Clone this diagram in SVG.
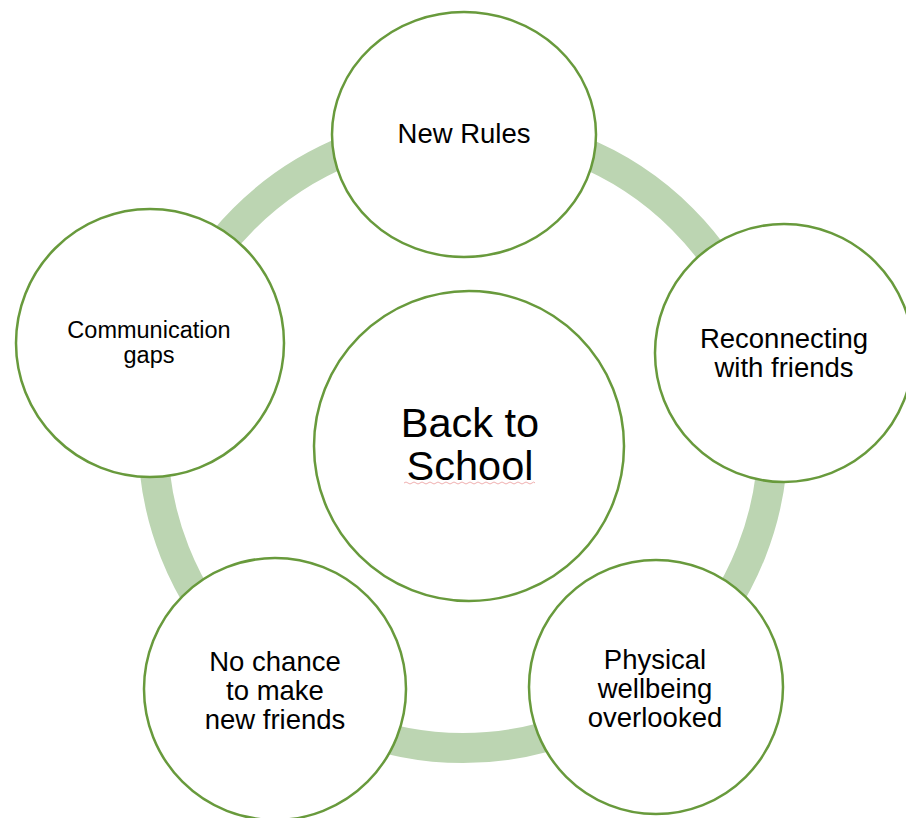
<svg xmlns="http://www.w3.org/2000/svg" width="906" height="818" viewBox="0 0 906 818">
<style>
.node{fill:#ffffff;stroke:#689a3c;stroke-width:2.5}
.ring{fill:none;stroke:#bcd5b2;stroke-width:30}
.t{font-family:"Liberation Sans",Arial,sans-serif;fill:#000;text-anchor:middle}
.s26{font-size:27.5px}
.s23{font-size:23.5px}
.s40{font-size:41.5px}
</style>
<rect width="906" height="818" fill="#ffffff"/>
<g id="connectors">
<circle class="ring" cx="463" cy="438" r="310"/>
</g>
<g id="node-new-rules">
<ellipse class="node" cx="464" cy="134.5" rx="132" ry="122.5"/>
<text class="t s26" x="464" y="143">New Rules</text>
</g>
<g id="node-reconnecting">
<circle class="node" cx="784" cy="353" r="129"/>
<text class="t s26" x="784" y="348">Reconnecting</text>
<text class="t s26" x="784" y="377">with friends</text>
</g>
<g id="node-physical">
<circle class="node" cx="656" cy="687" r="127"/>
<text class="t s26" x="655" y="669">Physical</text>
<text class="t s26" x="655" y="698">wellbeing</text>
<text class="t s26" x="655" y="727">overlooked</text>
</g>
<g id="node-no-chance">
<circle class="node" cx="275" cy="689" r="131"/>
<text class="t s26" x="275" y="671">No chance</text>
<text class="t s26" x="275" y="700">to make</text>
<text class="t s26" x="275" y="729">new friends</text>
</g>
<g id="node-communication">
<circle class="node" cx="150" cy="343" r="134"/>
<text class="t s23" x="149" y="338">Communication</text>
<text class="t s23" x="149" y="363">gaps</text>
</g>
<g id="node-back-to-school">
<circle class="node" cx="469" cy="446" r="155"/>
<text class="t s40" x="470" y="437">Back to</text>
<text class="t s40" x="470" y="480">School</text>
<path d="M404 483 Q406 481 408 483 T412 483 T416 483 T420 483 T424 483 T428 483 T432 483 T436 483 T440 483 T444 483 T448 483 T452 483 T456 483 T460 483 T464 483 T468 483 T472 483 T476 483 T480 483 T484 483 T488 483 T492 483 T496 483 T500 483 T504 483 T508 483 T512 483 T516 483 T520 483 T524 483 T528 483 T532 483 T535 483" fill="none" stroke="#f0b0b0" stroke-width="1"/>
</g>
</svg>
